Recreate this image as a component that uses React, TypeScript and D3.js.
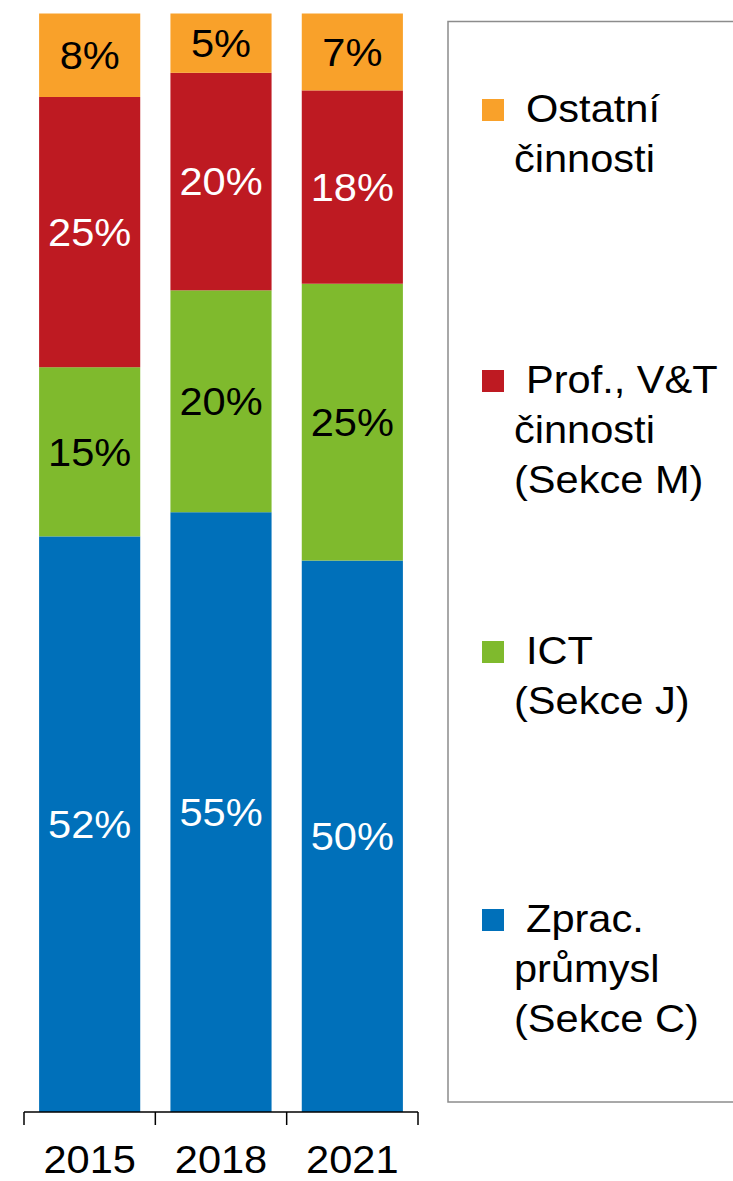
import * as d3 from "d3";
import React from "react";

const years = ["2015", "2018", "2021"];
const seriesKeys = ["zprac", "ict", "prof", "ostatni"];
const zpracValues = [52.4, 54.6, 50.2];
const ictValues = [15.4, 20.2, 25.2];
const profValues = [24.6, 19.8, 17.6];
const ostatniValues = [7.6, 5.4, 7.0];
const seriesColors = ["#0070BA", "#7FBA2D", "#BE1A22", "#F9A12A"];
const labelColors = ["#ffffff", "#000000", "#ffffff", "#000000"];
const legendLabels = [
  ["Zprac.", "průmysl", "(Sekce C)"],
  ["ICT", "(Sekce J)"],
  ["Prof., V&T", "činnosti", "(Sekce M)"],
  ["Ostatní", "činnosti"],
];

export default function App() {
  const svgRef = React.useRef<SVGSVGElement | null>(null);
  const width = 733;
  const height = 1181;

  React.useEffect(() => {
    const svg = d3.select(svgRef.current);
    svg.selectAll("*").remove();
    const font = "Liberation Sans, Arial, sans-serif";
    const fontSize = 38.5;
    const stretch = 1.08; // the original glyphs look a bit wider than Arial
    const place = (tx: number, ty: number) =>
      `translate(${tx},${ty}) scale(${stretch},1)`;

    const rows = years.map((year, i) => ({
      year,
      zprac: zpracValues[i],
      ict: ictValues[i],
      prof: profValues[i],
      ostatni: ostatniValues[i],
    }));

    const x = d3
      .scaleBand()
      .domain(years)
      .range([24, 418])
      .paddingInner(0.23)
      .paddingOuter(0.115);

    const y = d3.scaleLinear().domain([0, 100]).range([1112, 13.5]);

    const stacked = d3.stack<any>().keys(seriesKeys)(rows);

    stacked.forEach((layer, si) => {
      const g = svg.append("g");
      g.selectAll("rect")
        .data(layer)
        .join("rect")
        .attr("x", (d: any) => x(d.data.year) ?? 0)
        .attr("width", x.bandwidth())
        .attr("y", (d: any) => y(d[1]))
        .attr("height", (d: any) => y(d[0]) - y(d[1]))
        .attr("fill", seriesColors[si]);

      g.selectAll("text")
        .data(layer)
        .join("text")
        .attr("transform", (d: any) =>
          place((x(d.data.year) ?? 0) + x.bandwidth() / 2, (y(d[0]) + y(d[1])) / 2)
        )
        .attr("dy", "0.36em")
        .attr("text-anchor", "middle")
        .attr("font-family", font)
        .attr("font-size", fontSize)
        .attr("fill", labelColors[si])
        .text((d: any) => `${Math.round(d[1] - d[0])}%`);
    });

    // x axis
    const axis = svg.append("g").attr("transform", `translate(0,1112)`);
    axis
      .append("line")
      .attr("x1", 24)
      .attr("x2", 418)
      .attr("stroke", "#000")
      .attr("stroke-width", 1.5);
    const step = x.step();
    d3.range(years.length + 1).forEach((i) => {
      const tx = 24 + i * step;
      axis
        .append("line")
        .attr("x1", tx)
        .attr("x2", tx)
        .attr("y1", 0)
        .attr("y2", 13)
        .attr("stroke", "#000")
        .attr("stroke-width", 1.5);
    });
    axis
      .selectAll("text.tick")
      .data(years)
      .join("text")
      .attr("class", "tick")
      .attr("transform", (d) => place((x(d) ?? 0) + x.bandwidth() / 2, 61))
      .attr("text-anchor", "middle")
      .attr("font-family", font)
      .attr("font-size", fontSize)
      .attr("fill", "#000")
      .text((d) => d);

    // legend
    const legend = svg.append("g");
    legend
      .append("rect")
      .attr("x", 448)
      .attr("y", 21.5)
      .attr("width", 320)
      .attr("height", 1080.5)
      .attr("fill", "none")
      .attr("stroke", "#8c8c8c")
      .attr("stroke-width", 1.5);

    const firstBaselines = [932, 664, 393, 122];
    const lineGap = 50;
    legendLabels.forEach((lines, i) => {
      const base = firstBaselines[i];
      legend
        .append("rect")
        .attr("x", 482)
        .attr("y", base - 23)
        .attr("width", 22)
        .attr("height", 22)
        .attr("fill", seriesColors[i]);
      lines.forEach((line, li) => {
        legend
          .append("text")
          .attr("transform", place(li === 0 ? 526 : 514, base + li * lineGap))
          .attr("font-family", font)
          .attr("font-size", fontSize)
          .attr("fill", "#000")
          .text(line);
      });
    });
  }, []);

  return (
    <svg
      ref={svgRef}
      width={width}
      height={height}
      viewBox={`0 0 ${width} ${height}`}
      style={{ position: "absolute", left: 0, top: 0, background: "#fff" }}
    ></svg>
  );
}
